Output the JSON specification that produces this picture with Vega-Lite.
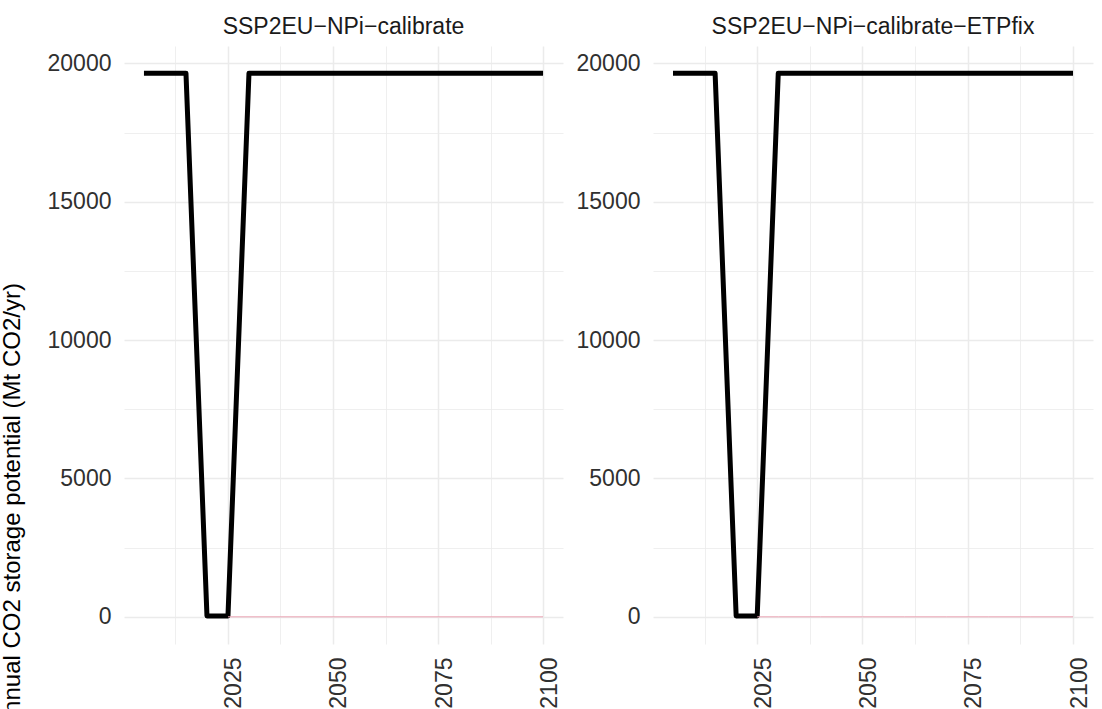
{
  "$schema": "https://vega.github.io/schema/vega-lite/v6.json",
  "background": "white",
  "padding": {"left": 0, "top": 16, "right": 7, "bottom": -9},
  "autosize": {"type": "pad"},
  "data": {"values": [
    {"scenario": "SSP2EU−NPi−calibrate", "series": "storage", "year": 2005, "value": 19650},
    {"scenario": "SSP2EU−NPi−calibrate", "series": "storage", "year": 2010, "value": 19650},
    {"scenario": "SSP2EU−NPi−calibrate", "series": "storage", "year": 2015, "value": 19650},
    {"scenario": "SSP2EU−NPi−calibrate", "series": "storage", "year": 2020, "value": 30},
    {"scenario": "SSP2EU−NPi−calibrate", "series": "storage", "year": 2025, "value": 30},
    {"scenario": "SSP2EU−NPi−calibrate", "series": "storage", "year": 2030, "value": 19650},
    {"scenario": "SSP2EU−NPi−calibrate", "series": "storage", "year": 2035, "value": 19650},
    {"scenario": "SSP2EU−NPi−calibrate", "series": "storage", "year": 2040, "value": 19650},
    {"scenario": "SSP2EU−NPi−calibrate", "series": "storage", "year": 2045, "value": 19650},
    {"scenario": "SSP2EU−NPi−calibrate", "series": "storage", "year": 2050, "value": 19650},
    {"scenario": "SSP2EU−NPi−calibrate", "series": "storage", "year": 2055, "value": 19650},
    {"scenario": "SSP2EU−NPi−calibrate", "series": "storage", "year": 2060, "value": 19650},
    {"scenario": "SSP2EU−NPi−calibrate", "series": "storage", "year": 2070, "value": 19650},
    {"scenario": "SSP2EU−NPi−calibrate", "series": "storage", "year": 2080, "value": 19650},
    {"scenario": "SSP2EU−NPi−calibrate", "series": "storage", "year": 2090, "value": 19650},
    {"scenario": "SSP2EU−NPi−calibrate", "series": "storage", "year": 2100, "value": 19650},
    {"scenario": "SSP2EU−NPi−calibrate", "series": "other", "year": 2025, "value": 0},
    {"scenario": "SSP2EU−NPi−calibrate", "series": "other", "year": 2030, "value": 0},
    {"scenario": "SSP2EU−NPi−calibrate", "series": "other", "year": 2040, "value": 0},
    {"scenario": "SSP2EU−NPi−calibrate", "series": "other", "year": 2050, "value": 0},
    {"scenario": "SSP2EU−NPi−calibrate", "series": "other", "year": 2060, "value": 0},
    {"scenario": "SSP2EU−NPi−calibrate", "series": "other", "year": 2070, "value": 0},
    {"scenario": "SSP2EU−NPi−calibrate", "series": "other", "year": 2080, "value": 0},
    {"scenario": "SSP2EU−NPi−calibrate", "series": "other", "year": 2090, "value": 0},
    {"scenario": "SSP2EU−NPi−calibrate", "series": "other", "year": 2100, "value": 0},
    {"scenario": "SSP2EU−NPi−calibrate−ETPfix", "series": "storage", "year": 2005, "value": 19650},
    {"scenario": "SSP2EU−NPi−calibrate−ETPfix", "series": "storage", "year": 2010, "value": 19650},
    {"scenario": "SSP2EU−NPi−calibrate−ETPfix", "series": "storage", "year": 2015, "value": 19650},
    {"scenario": "SSP2EU−NPi−calibrate−ETPfix", "series": "storage", "year": 2020, "value": 30},
    {"scenario": "SSP2EU−NPi−calibrate−ETPfix", "series": "storage", "year": 2025, "value": 30},
    {"scenario": "SSP2EU−NPi−calibrate−ETPfix", "series": "storage", "year": 2030, "value": 19650},
    {"scenario": "SSP2EU−NPi−calibrate−ETPfix", "series": "storage", "year": 2035, "value": 19650},
    {"scenario": "SSP2EU−NPi−calibrate−ETPfix", "series": "storage", "year": 2040, "value": 19650},
    {"scenario": "SSP2EU−NPi−calibrate−ETPfix", "series": "storage", "year": 2045, "value": 19650},
    {"scenario": "SSP2EU−NPi−calibrate−ETPfix", "series": "storage", "year": 2050, "value": 19650},
    {"scenario": "SSP2EU−NPi−calibrate−ETPfix", "series": "storage", "year": 2055, "value": 19650},
    {"scenario": "SSP2EU−NPi−calibrate−ETPfix", "series": "storage", "year": 2060, "value": 19650},
    {"scenario": "SSP2EU−NPi−calibrate−ETPfix", "series": "storage", "year": 2070, "value": 19650},
    {"scenario": "SSP2EU−NPi−calibrate−ETPfix", "series": "storage", "year": 2080, "value": 19650},
    {"scenario": "SSP2EU−NPi−calibrate−ETPfix", "series": "storage", "year": 2090, "value": 19650},
    {"scenario": "SSP2EU−NPi−calibrate−ETPfix", "series": "storage", "year": 2100, "value": 19650},
    {"scenario": "SSP2EU−NPi−calibrate−ETPfix", "series": "other", "year": 2025, "value": 0},
    {"scenario": "SSP2EU−NPi−calibrate−ETPfix", "series": "other", "year": 2030, "value": 0},
    {"scenario": "SSP2EU−NPi−calibrate−ETPfix", "series": "other", "year": 2040, "value": 0},
    {"scenario": "SSP2EU−NPi−calibrate−ETPfix", "series": "other", "year": 2050, "value": 0},
    {"scenario": "SSP2EU−NPi−calibrate−ETPfix", "series": "other", "year": 2060, "value": 0},
    {"scenario": "SSP2EU−NPi−calibrate−ETPfix", "series": "other", "year": 2070, "value": 0},
    {"scenario": "SSP2EU−NPi−calibrate−ETPfix", "series": "other", "year": 2080, "value": 0},
    {"scenario": "SSP2EU−NPi−calibrate−ETPfix", "series": "other", "year": 2090, "value": 0},
    {"scenario": "SSP2EU−NPi−calibrate−ETPfix", "series": "other", "year": 2100, "value": 0}
  ]},
  "spacing": 90,
  "bounds": "flush",
  "hconcat": [
    {
      "width": 439,
      "height": 598,
      "title": {"text": "SSP2EU−NPi−calibrate"},
      "transform": [{"filter": "datum.scenario === 'SSP2EU−NPi−calibrate'"}],
      "mark": {"type": "line", "strokeJoin": "round", "strokeCap": "butt"},
      "encoding": {
        "x": {"field": "year", "type": "quantitative", "scale": {"domain": [2000.25, 2104.75], "nice": false, "zero": false},
          "axis": {"title": null, "labelOverlap": false, "values": [2012.5, 2025, 2037.5, 2050, 2062.5, 2075, 2087.5, 2100], "labelExpr": "datum.value % 25 === 0 ? datum.label : ''", "format": "d", "gridWidth": {"condition": {"test": "datum.value % 25 === 0", "value": 1.5}, "value": 0.8}}},
        "y": {"field": "value", "type": "quantitative", "scale": {"domain": [-982.5, 20632.5], "nice": false, "zero": false},
          "axis": {"title": "Annual CO2 storage potential (Mt CO2/yr)", "titleY": 460, "labelOverlap": false, "values": [0, 2500, 5000, 7500, 10000, 12500, 15000, 17500, 20000], "labelExpr": "datum.value % 5000 === 0 ? datum.label : ''", "format": "d", "gridWidth": {"condition": {"test": "datum.value % 5000 === 0", "value": 1.5}, "value": 0.8}}},
        "color": {"field": "series", "type": "nominal", "scale": {"domain": ["storage", "other"], "range": ["#000000", "#EBA3B3"]}, "legend": null},
        "strokeWidth": {"field": "series", "type": "nominal", "scale": {"domain": ["storage", "other"], "range": [5, 1]}, "legend": null}
      }
    },
    {
      "width": 440,
      "height": 598,
      "title": {"text": "SSP2EU−NPi−calibrate−ETPfix"},
      "transform": [{"filter": "datum.scenario === 'SSP2EU−NPi−calibrate−ETPfix'"}],
      "mark": {"type": "line", "strokeJoin": "round", "strokeCap": "butt"},
      "encoding": {
        "x": {"field": "year", "type": "quantitative", "scale": {"domain": [2000.25, 2104.75], "nice": false, "zero": false},
          "axis": {"title": null, "labelOverlap": false, "values": [2012.5, 2025, 2037.5, 2050, 2062.5, 2075, 2087.5, 2100], "labelExpr": "datum.value % 25 === 0 ? datum.label : ''", "format": "d", "gridWidth": {"condition": {"test": "datum.value % 25 === 0", "value": 1.5}, "value": 0.8}}},
        "y": {"field": "value", "type": "quantitative", "scale": {"domain": [-982.5, 20632.5], "nice": false, "zero": false},
          "axis": {"title": null, "labelOverlap": false, "values": [0, 2500, 5000, 7500, 10000, 12500, 15000, 17500, 20000], "labelExpr": "datum.value % 5000 === 0 ? datum.label : ''", "format": "d", "gridWidth": {"condition": {"test": "datum.value % 5000 === 0", "value": 1.5}, "value": 0.8}}},
        "color": {"field": "series", "type": "nominal", "scale": {"domain": ["storage", "other"], "range": ["#000000", "#EBA3B3"]}, "legend": null},
        "strokeWidth": {"field": "series", "type": "nominal", "scale": {"domain": ["storage", "other"], "range": [5, 1]}, "legend": null}
      }
    }
  ],
  "config": {
    "view": {"stroke": null},
    "font": "Liberation Sans",
    "title": {"fontSize": 23, "font": "Liberation Sans", "fontWeight": "normal", "color": "#1A1A1A", "anchor": "middle", "baseline": "alphabetic", "offset": 7},
    "axis": {
      "domain": false,
      "ticks": false,
      "tickSize": 0,
      "gridColor": "#EBEBEB",
      "labelFont": "Liberation Sans",
      "labelFontSize": 23,
      "labelColor": "#303030",
      "labelFlush": false,
      "titleFont": "Liberation Sans",
      "titleFontSize": 24,
      "titleFontWeight": "normal",
      "titleColor": "#000000"
    },
    "axisX": {
      "labelAngle": -90,
      "labelPadding": 13,
      "labelOffset": 6
    },
    "axisY": {
      "labelPadding": 13,
      "titlePadding": 23
    }
  }
}
